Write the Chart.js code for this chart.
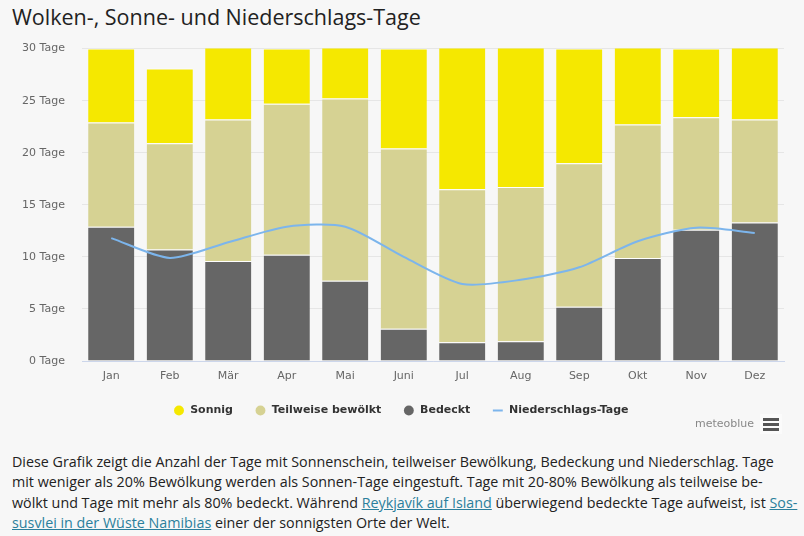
<!DOCTYPE html>
<html lang="de">
<head>
<meta charset="utf-8">
<script src="https://cdn.jsdelivr.net/npm/chart.js@4"></script>
<style>
  html, body { margin: 0; padding: 0; background: #f7f7f7; }
  body { width: 804px; height: 536px; position: relative; overflow: hidden; font-family: "Open Sans", "Noto Sans", sans-serif; }
  h2 { position: absolute; left: 12px; top: 2px; margin: 0; font-weight: 400; font-size: 21.5px; color: #222; }
  #wrap { position: absolute; left: 0; top: 25px; width: 804px; height: 413px; }
  #brand { position: absolute; left: 695px; top: 417px; font-family: "DejaVu Sans", sans-serif; font-size: 11px; color: #888; }
  #menu { position: absolute; left: 760px; top: 414px; width: 22px; height: 20px; background: #fbfbfb; }
  #menu span { position: absolute; left: 3px; width: 16px; height: 3px; background: #555; }
  p { position: absolute; left: 12px; top: 452px; width: 792px; margin: 0; font-size: 14.3px; line-height: 20.4px; color: #222; white-space: nowrap; }
  a { color: #2b7f9c; }
</style>
</head>
<body>
<h2>Wolken-, Sonne- und Niederschlags-Tage</h2>
<div id="wrap"><canvas id="chart"></canvas></div>
<div id="brand">meteoblue</div>
<div id="menu"><span style="top:4px"></span><span style="top:9px"></span><span style="top:14px"></span></div>
<p>Diese Grafik zeigt die Anzahl der Tage mit Sonnenschein, teilweiser Bewölkung, Bedeckung und Niederschlag. Tage<br>mit weniger als 20% Bewölkung werden als Sonnen-Tage eingestuft. Tage mit 20-80% Bewölkung als teilweise be-<br>wölkt und Tage mit mehr als 80% bedeckt. Während <a href="#">Reykjavík auf Island</a> überwiegend bedeckte Tage aufweist, ist <a href="#">Sos-</a><br><a href="#">susvlei in der Wüste Namibias</a> einer der sonnigsten Orte der Welt.</p>
<script>
// Monatswerte (Tage)
const months = ['Jan', 'Feb', 'Mär', 'Apr', 'Mai', 'Juni', 'Jul', 'Aug', 'Sep', 'Okt', 'Nov', 'Dez'];
const overcast = [12.9, 10.7, 9.6, 10.2, 7.7, 3.1, 1.8, 1.9, 5.2, 9.9, 12.6, 13.3];
const partly = [10.0, 10.2, 13.6, 14.5, 17.5, 17.3, 14.7, 14.8, 13.8, 12.8, 10.8, 9.9];
const sunny = [7.1, 7.2, 7.8, 5.3, 5.8, 9.6, 14.5, 14.3, 11.0, 8.3, 6.6, 7.8];
const rainDays = [11.8, 9.9, 11.4, 12.9, 12.9, 10.0, 7.4, 7.8, 9.0, 11.5, 12.8, 12.3];
const yTicks = [0, 5, 10, 15, 20, 25, 30];

const sunColor = '#f5e800';
const partlyColor = '#d6d293';
const overcastColor = '#666666';
const rainColor = '#7cb5ec';

// legend order: Sonnig, Teilweise, Bedeckt, Niederschlag
const legendOrder = { 2: 0, 1: 1, 0: 2, 3: 3 };

function barSet(label, data, color) {
    return {
        label: label,
        data: data,
        backgroundColor: color,
        borderColor: '#ffffff',
        borderWidth: { top: 1, bottom: 0, left: 0, right: 0 },
        borderSkipped: false,
        stack: 'days',
        barPercentage: 0.79,
        categoryPercentage: 1,
        order: 1
    };
}

new Chart(document.getElementById('chart').getContext('2d'), {
    type: 'bar',
    data: {
        labels: months,
        datasets: [
            barSet('Bedeckt', overcast, overcastColor),
            barSet('Teilweise bewölkt', partly, partlyColor),
            barSet('Sonnig', sunny, sunColor),
            {
                label: 'Niederschlags-Tage',
                type: 'line',
                data: rainDays,
                borderColor: rainColor,
                backgroundColor: rainColor,
                borderWidth: 2,
                pointRadius: 0,
                tension: 0.25,
                stack: 'rain',
                order: 0
            }
        ]
    },
    options: {
        responsive: true,
        maintainAspectRatio: false,
        animation: false,
        layout: { padding: { left: 20, right: 20, top: 0, bottom: 12 } },
        plugins: {
            tooltip: { enabled: false },
            legend: {
                position: 'bottom',
                labels: {
                    usePointStyle: true,
                    boxWidth: 7,
                    boxHeight: 7,
                    padding: 24,
                    color: '#333',
                    font: { family: 'DejaVu Sans', size: 11, weight: 'bold' },
                    sort: (a, b) => legendOrder[a.datasetIndex] - legendOrder[b.datasetIndex],
                    generateLabels: function(chart) {
                        const items = Chart.defaults.plugins.legend.labels.generateLabels(chart);
                        items.forEach(it => {
                            it.text = '\u2009' + it.text;
                            if (it.datasetIndex === 3) {
                                it.pointStyle = 'line';
                                it.lineWidth = 2;
                                it.strokeStyle = rainColor;
                            } else {
                                it.pointStyle = 'circle';
                                it.lineWidth = 0;
                            }
                        });
                        return items;
                    }
                }
            }
        },
        scales: {
            x: {
                stacked: true,
                afterFit: axis => { axis.height = 20; },
                grid: { display: false, drawTicks: false },
                border: { color: '#ccd6eb' },
                ticks: { color: '#666', font: { family: 'DejaVu Sans', size: 11 }, padding: 9 }
            },
            y: {
                stacked: true,
                min: 0,
                max: 30,
                afterBuildTicks: axis => { axis.ticks = yTicks.map(v => ({ value: v })); },
                afterFit: axis => { axis.width = 62; },
                grid: { color: '#e6e6e6', drawTicks: false },
                border: { display: false },
                ticks: {
                    color: '#666',
                    font: { family: 'DejaVu Sans', size: 11 },
                    padding: 17,
                    callback: v => v + ' Tage'
                }
            }
        }
    }
});
</script>
</body>
</html>
